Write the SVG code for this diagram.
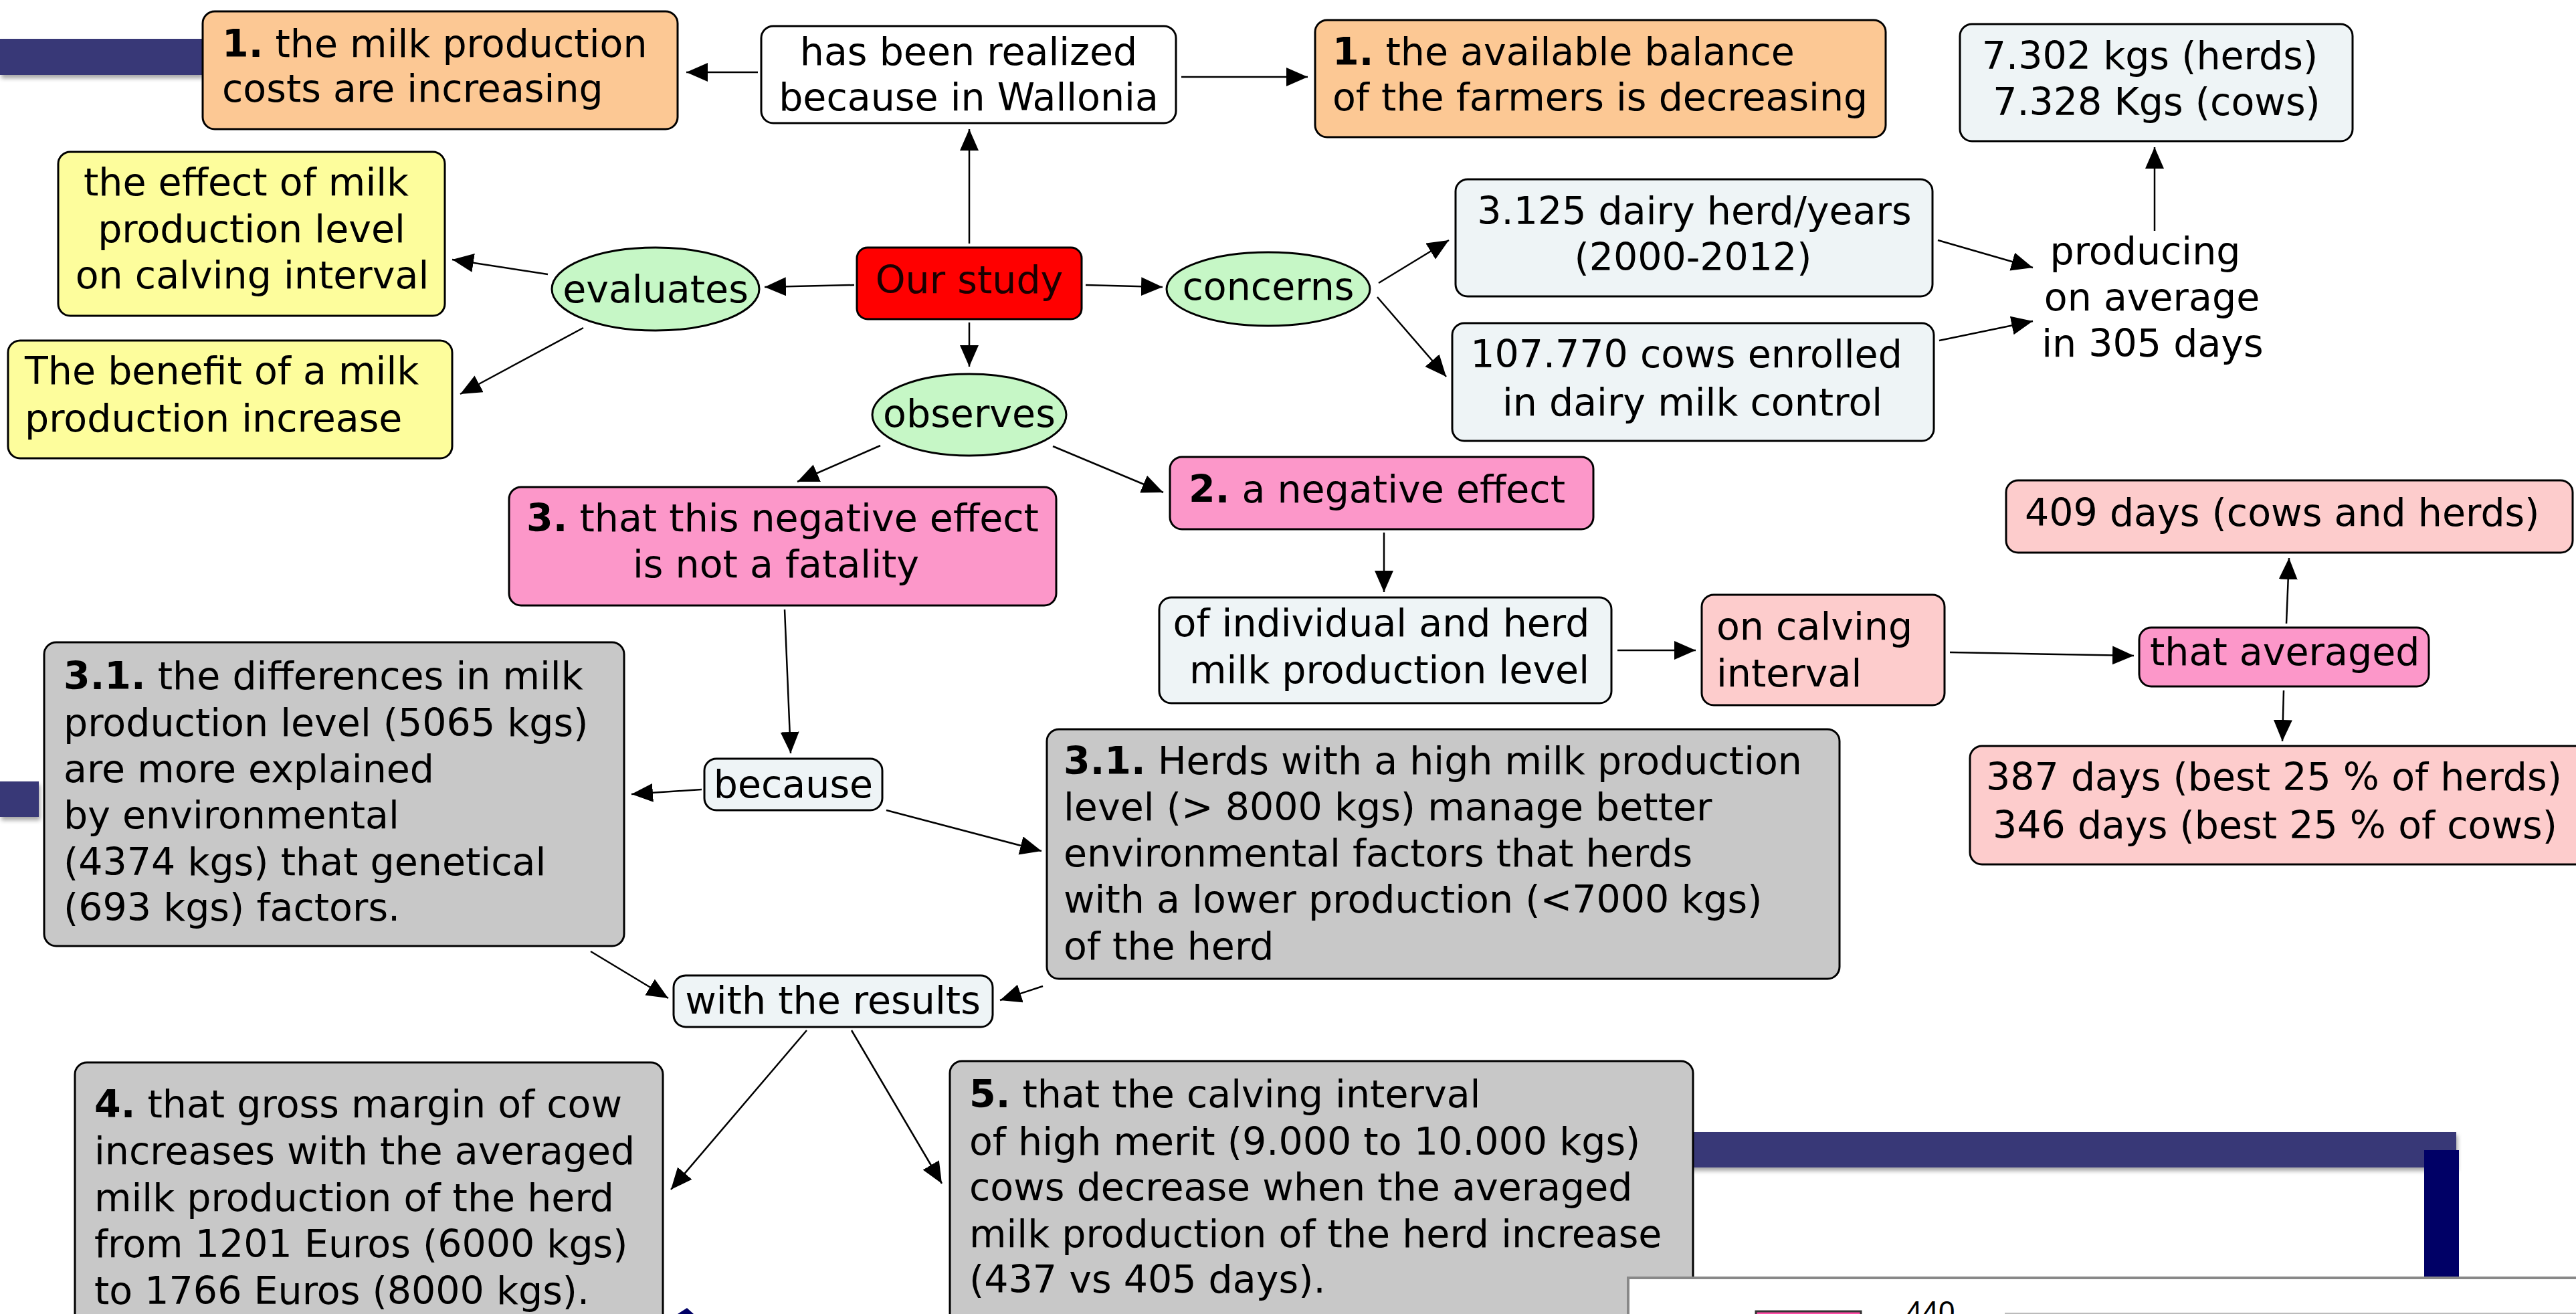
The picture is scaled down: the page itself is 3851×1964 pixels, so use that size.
<svg xmlns="http://www.w3.org/2000/svg" width="3851" height="1964" viewBox="0 0 3851 1964">
<style>
text{font-family:"DejaVu Sans","Verdana",sans-serif;font-size:57px;fill:#000}
.c{text-anchor:middle}
.b{font-weight:bold}
.box{stroke:#000;stroke-width:3}
.peach{fill:#fcc894}
.yel{fill:#fdfd9c}
.lb{fill:#eef4f6}
.grn{fill:#c6f7c6}
.pink{fill:#fc97c9}
.lpink{fill:#fdcccc}
.gray{fill:#c8c8c8}
.red{fill:#ff0000}
.wht{fill:#ffffff}
.con line{stroke:#000;stroke-width:2.5;marker-end:url(#ah)}
.navy{fill:#393777}
</style>
<defs>
<marker id="ah" markerUnits="userSpaceOnUse" markerWidth="34" markerHeight="30" refX="32" refY="14" orient="auto"><path d="M0,0 L32,14 L0,28 z" fill="#000"/></marker>
<filter id="sh" x="-10%" y="-20%" width="120%" height="160%"><feDropShadow dx="2" dy="5" stdDeviation="3" flood-color="#000" flood-opacity="0.35"/></filter>
</defs>
<rect width="3851" height="1964" fill="#fff"/>

<g id="decor">
<rect class="navy" x="0" y="58" width="302" height="54" filter="url(#sh)"/>
<rect class="navy" x="0" y="1168" width="58" height="53" filter="url(#sh)"/>
<rect class="navy" x="2520" y="1692" width="1152" height="53" filter="url(#sh)"/>
<rect x="3624" y="1719" width="52" height="200" fill="#000066"/>
<polygon points="1013,1964 1027,1955 1037,1964" fill="#000066"/>
</g>

<g class="con" id="connectors">
<line x1="1133" y1="108" x2="1026" y2="108"/>
<line x1="1766" y1="115" x2="1955" y2="115"/>
<line x1="1449" y1="364" x2="1449" y2="193"/>
<line x1="1277" y1="426" x2="1143" y2="429"/>
<line x1="819" y1="410" x2="676" y2="388"/>
<line x1="872" y1="490" x2="688" y2="589"/>
<line x1="1623" y1="426" x2="1738" y2="429"/>
<line x1="2061" y1="423" x2="2166" y2="359"/>
<line x1="2059" y1="444" x2="2162" y2="563"/>
<line x1="2897" y1="359" x2="3039" y2="400"/>
<line x1="2899" y1="509" x2="3039" y2="480"/>
<line x1="3221" y1="345" x2="3221" y2="220"/>
<line x1="1449" y1="482" x2="1449" y2="548"/>
<line x1="1574" y1="667" x2="1739" y2="736"/>
<line x1="1316" y1="666" x2="1192" y2="720"/>
<line x1="2069" y1="796" x2="2069" y2="885"/>
<line x1="2418" y1="972" x2="2535" y2="972"/>
<line x1="2915" y1="975" x2="3190" y2="980"/>
<line x1="3418" y1="932" x2="3422" y2="834"/>
<line x1="3414" y1="1032" x2="3412" y2="1108"/>
<line x1="1173" y1="911" x2="1182" y2="1126"/>
<line x1="1049" y1="1180" x2="944" y2="1187"/>
<line x1="1325" y1="1211" x2="1557" y2="1272"/>
<line x1="883" y1="1422" x2="999" y2="1492"/>
<line x1="1559" y1="1474" x2="1495" y2="1495"/>
<line x1="1206" y1="1540" x2="1003" y2="1778"/>
<line x1="1273" y1="1540" x2="1408" y2="1769"/>
</g>

<g id="n-costs"><rect class="box peach" x="303" y="17" width="710" height="176" rx="18"/>
<text x="332" y="85"><tspan class="b">1.</tspan> the milk production</text>
<text x="332" y="152">costs are increasing</text></g>

<g id="n-hasbeen"><rect class="box wht" x="1138" y="39" width="620" height="145" rx="18"/>
<text class="c" x="1448" y="97">has been realized</text>
<text class="c" x="1448" y="165">because in Wallonia</text></g>

<g id="n-balance"><rect class="box peach" x="1966" y="30" width="853" height="175" rx="18"/>
<text x="1992" y="97"><tspan class="b">1.</tspan> the available balance</text>
<text x="1992" y="165">of the farmers is decreasing</text></g>

<g id="n-kgs"><rect class="box lb" x="2930" y="36" width="587" height="175" rx="18"/>
<text class="c" x="3214" y="103">7.302 kgs (herds)</text>
<text class="c" x="3224" y="172">7.328 Kgs (cows)</text></g>

<g id="n-producing">
<text class="c" x="3207" y="395">producing</text>
<text class="c" x="3217" y="464">on average</text>
<text class="c" x="3218" y="533">in 305 days</text></g>

<g id="n-herd"><rect class="box lb" x="2176" y="268" width="713" height="175" rx="18"/>
<text class="c" x="2533" y="335">3.125 dairy herd/years</text>
<text class="c" x="2531" y="404">(2000-2012)</text></g>

<g id="n-cows"><rect class="box lb" x="2171" y="483" width="720" height="176" rx="18"/>
<text class="c" x="2521" y="549">107.770 cows enrolled</text>
<text class="c" x="2530" y="621">in dairy milk control</text></g>

<g id="n-study"><rect class="box red" x="1281" y="370" width="336" height="107" rx="16"/>
<text class="c" x="1449" y="438" style="fill:#1a0000">Our study</text></g>

<g id="n-evaluates"><ellipse class="box grn" cx="980" cy="432" rx="155" ry="62"/>
<text class="c" x="980" y="452">evaluates</text></g>

<g id="n-concerns"><ellipse class="box grn" cx="1896" cy="432" rx="152" ry="55"/>
<text class="c" x="1896" y="448">concerns</text></g>

<g id="n-observes"><ellipse class="box grn" cx="1449" cy="620" rx="145" ry="61"/>
<text class="c" x="1449" y="638">observes</text></g>

<g id="n-effect"><rect class="box yel" x="87" y="227" width="578" height="245" rx="18"/>
<text class="c" x="368" y="292">the effect of milk</text>
<text class="c" x="376" y="362">production level</text>
<text class="c" x="377" y="431">on calving interval</text></g>

<g id="n-benefit"><rect class="box yel" x="12" y="509" width="664" height="176" rx="18"/>
<text x="37" y="574">The benefit of a milk</text>
<text x="37" y="645">production increase</text></g>

<g id="n-fatality"><rect class="box pink" x="761" y="728" width="818" height="177" rx="18"/>
<text class="c" x="1170" y="794"><tspan class="b">3.</tspan> that this negative effect</text>
<text class="c" x="1160" y="863">is not a fatality</text></g>

<g id="n-negative"><rect class="box pink" x="1749" y="683" width="633" height="108" rx="18"/>
<text x="1777" y="751"><tspan class="b">2.</tspan> a negative effect</text></g>

<g id="n-because"><rect class="box lb" x="1053" y="1134" width="266" height="77" rx="18"/>
<text class="c" x="1186" y="1192">because</text></g>

<g id="n-individual"><rect class="box lb" x="1733" y="893" width="676" height="158" rx="18"/>
<text class="c" x="2065" y="951">of individual and herd</text>
<text class="c" x="2077" y="1021">milk production level</text></g>

<g id="n-calving"><rect class="box lpink" x="2544" y="889" width="363" height="165" rx="18"/>
<text x="2566" y="956">on calving</text>
<text x="2566" y="1026">interval</text></g>

<g id="n-averaged"><rect class="box pink" x="3198" y="938" width="433" height="88" rx="18"/>
<text x="3214" y="994">that averaged</text></g>

<g id="n-409"><rect class="box lpink" x="2999" y="718" width="847" height="108" rx="18"/>
<text x="3027" y="786">409 days (cows and herds)</text></g>

<g id="n-387"><rect class="box lpink" x="2945" y="1115" width="980" height="177" rx="18"/>
<text x="2969" y="1181">387 days (best 25 % of herds)</text>
<text x="2979" y="1253">346 days (best 25 % of cows)</text></g>

<g id="n-diff"><rect class="box gray" x="66" y="960" width="867" height="454" rx="18"/>
<text x="95" y="1030"><tspan class="b">3.1.</tspan> the differences in milk</text>
<text x="95" y="1100">production level (5065 kgs)</text>
<text x="95" y="1169">are more explained</text>
<text x="95" y="1238">by environmental</text>
<text x="95" y="1308">(4374 kgs) that genetical</text>
<text x="95" y="1376">(693 kgs) factors.</text></g>

<g id="n-herds"><rect class="box gray" x="1565" y="1090" width="1185" height="373" rx="18"/>
<text x="1590" y="1157"><tspan class="b">3.1.</tspan> Herds with a high milk production</text>
<text x="1590" y="1226">level (&gt; 8000 kgs) manage better</text>
<text x="1590" y="1295">environmental factors that herds</text>
<text x="1590" y="1364">with a lower production (&lt;7000 kgs)</text>
<text x="1590" y="1434">of the herd</text></g>

<g id="n-results"><rect class="box lb" x="1007" y="1458" width="477" height="77" rx="18"/>
<text class="c" x="1245" y="1515">with the results</text></g>

<g id="n-margin"><rect class="box gray" x="112" y="1588" width="879" height="420" rx="18"/>
<text x="141" y="1670"><tspan class="b">4.</tspan> that gross margin of cow</text>
<text x="141" y="1740">increases with the averaged</text>
<text x="141" y="1810">milk production of the herd</text>
<text x="141" y="1879">from 1201 Euros (6000 kgs)</text>
<text x="141" y="1949">to 1766 Euros (8000 kgs).</text></g>

<g id="n-interval"><rect class="box gray" x="1420" y="1586" width="1111" height="420" rx="18"/>
<text x="1449" y="1655"><tspan class="b">5.</tspan> that the calving interval</text>
<text x="1449" y="1726">of high merit (9.000 to 10.000 kgs)</text>
<text x="1449" y="1794">cows decrease when the averaged</text>
<text x="1449" y="1864">milk production of the herd increase</text>
<text x="1449" y="1932">(437 vs 405 days).</text></g>

<g id="chart-fragment">
<rect x="2434" y="1910" width="1430" height="80" fill="#fff" stroke="#888" stroke-width="4"/>
<rect x="2625" y="1960" width="157" height="30" fill="#ff4fa8" stroke="#333" stroke-width="3"/>
<text x="2849" y="1976" style="font-family:'Liberation Sans Narrow','Liberation Sans',sans-serif;font-size:44px">440</text>
<line x1="2997" y1="1963" x2="3851" y2="1963" stroke="#bbb" stroke-width="2"/>
</g>
</svg>
